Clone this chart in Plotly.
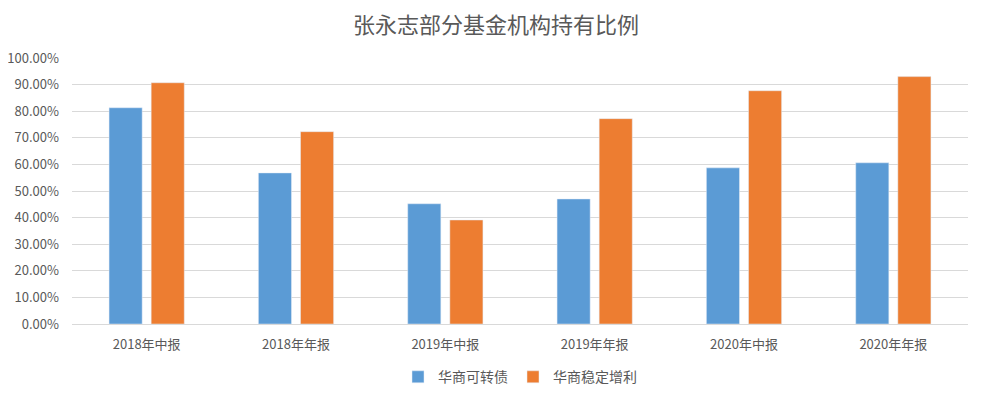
import plotly.graph_objects as go

categories = ["2018年中报", "2018年年报", "2019年中报", "2019年年报", "2020年中报", "2020年年报"]
convertible = [0.813, 0.568, 0.452, 0.470, 0.587, 0.606]
stable_gain = [0.907, 0.723, 0.391, 0.772, 0.877, 0.930]
series_names = ["华商可转债", "华商稳定增利"]

FONT = "Noto Sans CJK SC, Microsoft YaHei, sans-serif"
GREY = "#595959"

fig = go.Figure()
fig.add_trace(go.Bar(x=categories, y=convertible, name=series_names[0], marker_color="#5b9bd5"))
fig.add_trace(go.Bar(x=categories, y=stable_gain, name=series_names[1], marker_color="#ed7d31"))

# the page puts an 8px body margin around the figure, so size it a bit smaller
fig.update_layout(
    width=976,
    height=392,
    margin=dict(l=64, r=16, t=50, b=76, autoexpand=False),
    paper_bgcolor="white",
    plot_bgcolor="white",
    barmode="group",
    bargap=0.436,
    bargroupgap=0.214,
    title=dict(
        text="张永志部分基金机构持有比例",
        x=0.5,
        xanchor="center",
        y=0.955,
        yanchor="middle",
        font=dict(family=FONT, size=22, color=GREY),
    ),
    font=dict(family=FONT, size=13, color=GREY),
    legend=dict(
        orientation="h",
        x=0.5,
        xanchor="center",
        y=-0.2,
        yanchor="middle",
        font=dict(size=14, color=GREY),
        itemwidth=30,
        tracegroupgap=0,
    ),
    xaxis=dict(
        showgrid=False,
        showline=True,
        linecolor="#d9d9d9",
        linewidth=1,
        ticks="",
        ticklabelstandoff=8,
        automargin=False,
        tickfont=dict(size=13, color=GREY),
    ),
    yaxis=dict(
        range=[0, 1.0],
        dtick=0.1,
        tickformat=".2%",
        showgrid=True,
        gridcolor="#d9d9d9",
        gridwidth=1,
        zeroline=False,
        showline=False,
        ticks="",
        ticklabelstandoff=12,
        automargin=False,
        tickfont=dict(size=13, color=GREY),
    ),
)

fig.write_html("out.html")
